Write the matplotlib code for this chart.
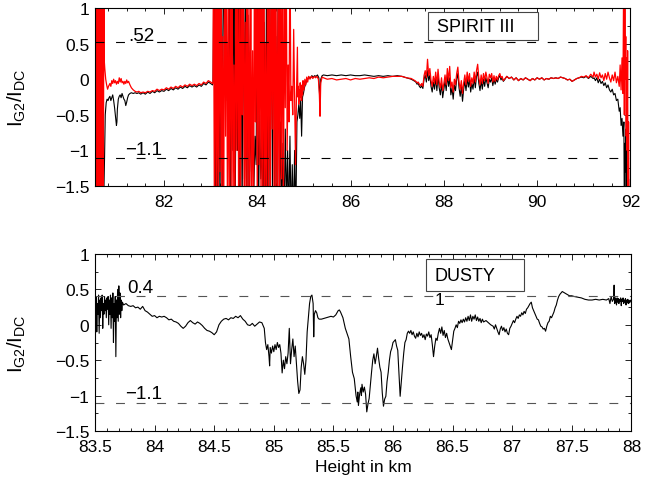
import numpy as np
import matplotlib
matplotlib.use("Agg")
import matplotlib.pyplot as plt
from matplotlib.ticker import MultipleLocator, FuncFormatter
from matplotlib.patches import Rectangle

plt.rcParams['font.family'] = ['Liberation Sans', 'DejaVu Sans']
plt.rcParams['mathtext.fontset'] = 'custom'
plt.rcParams['mathtext.rm'] = 'Liberation Sans'
plt.rcParams['mathtext.it'] = 'Liberation Sans:italic'
plt.rcParams['axes.unicode_minus'] = True

# ---------------- SPIRIT III (top panel) ----------------
spirit_black_h = [
    80.520, 80.527, 80.533, 80.540, 80.547, 80.553, 80.560, 80.567, 80.573, 80.580,
    80.587, 80.593, 80.600, 80.607, 80.613, 80.620, 80.627, 80.633, 80.640, 80.660,
    80.690, 80.710, 80.725, 80.740, 80.760, 80.780, 80.800,
    80.82, 80.84, 80.86, 80.88, 80.90, 80.92, 80.94, 80.96, 80.98, 80.99, 81.00, 81.02,
    81.04, 81.06, 81.08, 81.10, 81.12, 81.14, 81.16, 81.18, 81.20, 81.22, 81.24, 81.27,
    81.30, 81.34, 81.38, 81.42, 81.46, 81.50,
    81.55, 81.60, 81.65, 81.70, 81.75, 81.80, 81.85, 81.90, 81.95, 82.00, 82.05, 82.10,
    82.15, 82.20, 82.25, 82.30, 82.35, 82.40, 82.45, 82.50, 82.55, 82.60, 82.65, 82.70,
    82.75, 82.80, 82.85, 82.90, 82.95, 83.00, 83.04,
    83.050, 83.075, 83.100, 83.125, 83.150, 83.175, 83.200, 83.225, 83.250, 83.275,
    83.300, 83.325, 83.350, 83.375, 83.400, 83.425, 83.450, 83.475, 83.500, 83.525,
    83.550, 83.575, 83.600, 83.625, 83.650, 83.675, 83.700, 83.725, 83.750, 83.775,
    83.800, 83.825, 83.850, 83.875, 83.900, 83.925, 83.950, 83.975, 84.000, 84.025,
    84.050, 84.075, 84.100, 84.125, 84.150, 84.175, 84.200, 84.225, 84.250, 84.275,
    84.300, 84.325, 84.350, 84.375, 84.400, 84.425, 84.450, 84.475, 84.500, 84.525,
    84.550, 84.575, 84.600, 84.625, 84.650, 84.675, 84.700, 84.725, 84.750, 84.775,
    84.800, 84.825, 84.850,
    84.87, 84.89, 84.91, 84.93, 84.95, 84.97, 84.99, 85.01, 85.03, 85.05, 85.08, 85.11,
    85.14, 85.17, 85.20, 85.23, 85.26, 85.29, 85.32, 85.34, 85.36, 85.39, 85.42,
    85.50, 85.60, 85.70, 85.80, 85.90, 86.00, 86.10, 86.20, 86.30, 86.40, 86.50, 86.60,
    86.70, 86.80, 86.90, 87.00, 87.10, 87.20, 87.30, 87.38,
    87.400, 87.425, 87.450, 87.475, 87.500, 87.525, 87.550, 87.575, 87.600, 87.625,
    87.650, 87.675, 87.700, 87.725, 87.750, 87.775, 87.800, 87.825, 87.850, 87.875,
    87.900, 87.925, 87.950, 87.975, 88.000, 88.025, 88.050, 88.075, 88.100, 88.125,
    88.150, 88.175, 88.200, 88.225, 88.250, 88.275, 88.300, 88.325, 88.350, 88.375,
    88.400, 88.425, 88.450, 88.475, 88.500, 88.525, 88.550, 88.575, 88.600, 88.625,
    88.650, 88.675, 88.700, 88.725, 88.750, 88.775, 88.800, 88.825, 88.850, 88.875,
    88.900, 88.925, 88.950, 88.975, 89.000, 89.025, 89.050, 89.075, 89.100, 89.125,
    89.150, 89.175, 89.200, 89.225, 89.250, 89.275, 89.300,
    89.35, 89.40, 89.45, 89.50, 89.55, 89.60, 89.65, 89.70, 89.75, 89.80, 89.85, 89.90,
    89.95, 90.00, 90.05, 90.10, 90.15, 90.20, 90.25, 90.30, 90.35, 90.40, 90.45, 90.50,
    90.55, 90.60, 90.65, 90.70, 90.75, 90.80, 90.85, 90.90, 90.95, 91.00, 91.05, 91.10,
    91.15, 91.20,
    91.22, 91.25, 91.28, 91.31, 91.34, 91.37, 91.40, 91.43, 91.46, 91.49, 91.52, 91.55,
    91.58, 91.61, 91.64, 91.67, 91.70, 91.73, 91.76, 91.78, 91.80, 91.82, 91.84, 91.86,
    91.87, 91.88, 91.89, 91.90, 91.91, 91.92, 91.93, 91.94, 91.95, 91.96, 91.97,
]
spirit_black_v = [
    2, -2, 2, -2, 2, -2, 2, -2, 2, -2,
    2, -2, 2, -2, 2, -2, 2, -2, -1.8, -2,
    -2, -1.6, -1.1, -0.5, -0.33, -0.28, -0.30,
    -0.26, -0.24, -0.30, -0.26, -0.22, -0.30, -0.40, -0.52, -0.65, -0.60, -0.42, -0.28,
    -0.24, -0.22, -0.26, -0.20, -0.24, -0.28, -0.30, -0.37, -0.32, -0.26, -0.22, -0.20,
    -0.19, -0.20, -0.19, -0.20, -0.19, -0.21,
    -0.19, -0.21, -0.18, -0.20, -0.17, -0.19, -0.16, -0.18, -0.16, -0.17, -0.14, -0.16,
    -0.13, -0.15, -0.12, -0.14, -0.11, -0.13, -0.10, -0.12, -0.09, -0.11, -0.09, -0.11,
    -0.08, -0.10, -0.06, -0.08, -0.04, -0.06, -0.08,
    -0.05, 2, -2, 2, -2, 1.5, -2, 2, -1.5, 2,
    0.4, -0.3, 0.5, -0.6, 2, -2, 2, -1.0, 2, -2,
    0.6, -1.0, 2, -2, 1.2, -2, 2, -1.4, 2, -2,
    0.9, -2, -0.4, -1.3, -0.6, -1.6, -0.8, -1.2, 2, -2,
    -0.5, -1.4, -0.9, -2, 0.8, -2, 2, -2, 1.5, -2,
    2, -1.6, 2, -2, 0.6, -2, 2, -2, -0.6, -2,
    -0.9, -2, -0.7, -1.8, -1.0, -2, -0.8, -2, -1.2, -2,
    -1.0, -2, -0.6,
    -0.5, -0.35, -0.55, -0.3, -0.8, -0.25, -0.2, -0.12, -0.08, -0.04, 0.0, 0.03,
    0.02, 0.05, 0.03, 0.05, 0.04, 0.06, 0.02, -0.3, 0.0, 0.05, 0.06,
    0.05, 0.06, 0.05, 0.06, 0.05, 0.06, 0.05, 0.05, 0.06, 0.05, 0.04, 0.05,
    0.04, 0.05, 0.04, 0.05, 0.04, 0.02, 0.0, -0.03,
    -0.04, -0.07, -0.06, -0.10, -0.12, -0.09, -0.13, 0.0, 0.06, -0.04,
    0.12, -0.02, 0.06, -0.10, -0.18, -0.04, -0.14, 0.02, -0.16, 0.05,
    -0.12, -0.22, -0.06, -0.26, -0.14, -0.02, -0.16, 0.06, -0.10, 0.02,
    -0.22, -0.12, -0.28, -0.08, -0.16, 0.0, 0.08, -0.12, -0.24, -0.10,
    -0.31, -0.14, -0.02, -0.16, 0.02, -0.11, 0.0, -0.18, -0.06, -0.14,
    0.02, -0.12, 0.04, 0.10, -0.06, -0.16, -0.02, -0.14, 0.0, -0.10,
    0.02, -0.05, -0.12, 0.0, -0.04, 0.02, -0.09, 0.0, -0.07, 0.0,
    -0.04, 0.02, 0.05, -0.01, 0.02, -0.03, -0.01,
    0.04, 0.01, 0.03, -0.01, 0.02, -0.02, 0.01, -0.01, 0.02, 0.0, -0.02, 0.01,
    -0.01, 0.02, 0.0, 0.02, -0.01, 0.01, 0.0, 0.02, 0.01, 0.02, 0.01, 0.03,
    0.02, 0.01, -0.01, 0.0, -0.03, -0.01, 0.01, 0.02, 0.03, 0.02, 0.04, 0.01,
    0.04, 0.01,
    0.02, -0.02, 0.02, -0.05, 0.0, -0.06, -0.03, -0.09, -0.05, -0.12, -0.08, -0.15,
    -0.18, -0.14, -0.22, -0.20, -0.30, -0.28, -0.45, -0.40, -0.65, -0.55, -0.80, -0.60,
    -2, -0.9, -1.3, -0.7, -1.6, -1.0, -2, -1.2, -2, -1.4, -2,
]

spirit_red_h = [
    80.520, 80.527, 80.533, 80.540, 80.547, 80.553, 80.560, 80.567, 80.573, 80.580,
    80.587, 80.593, 80.600, 80.607, 80.613, 80.620, 80.627, 80.633, 80.640, 80.650,
    80.660, 80.670, 80.680, 80.690, 80.700, 80.710, 80.720, 80.730, 80.750, 80.770,
    80.790, 80.810,
    80.84, 80.86, 80.88, 80.90, 80.92, 80.94, 80.96, 80.98, 81.00, 81.02, 81.04, 81.06,
    81.08, 81.10, 81.12, 81.14, 81.16, 81.18, 81.20, 81.22, 81.24, 81.27, 81.30, 81.34,
    81.38, 81.42, 81.46, 81.50,
    81.55, 81.60, 81.65, 81.70, 81.75, 81.80, 81.85, 81.90, 81.95, 82.00, 82.05, 82.10,
    82.15, 82.20, 82.25, 82.30, 82.35, 82.40, 82.45, 82.50, 82.55, 82.60, 82.65, 82.70,
    82.75, 82.80, 82.85, 82.90, 82.95, 83.00, 83.04,
    83.05, 83.06, 83.08, 83.10, 83.12, 83.14, 83.16, 83.18, 83.20, 83.22, 83.24, 83.26,
    83.28, 83.30, 83.32, 83.34, 83.36, 83.38, 83.40, 83.42, 83.44, 83.46, 83.48, 83.50,
    83.52, 83.54, 83.56, 83.58, 83.60, 83.62, 83.64, 83.66, 83.68, 83.70, 83.72, 83.74,
    83.76, 83.78, 83.80, 83.82, 83.84, 83.86, 83.88, 83.90, 83.92, 83.94, 83.96, 83.98,
    84.00, 84.02, 84.04, 84.06, 84.08, 84.10, 84.12, 84.14, 84.16, 84.18, 84.20, 84.22,
    84.24, 84.26, 84.28, 84.30, 84.32, 84.34, 84.36, 84.38, 84.40, 84.42, 84.44, 84.46,
    84.48, 84.50, 84.52, 84.54, 84.56, 84.58, 84.60, 84.62, 84.64, 84.66, 84.68, 84.70,
    84.72, 84.74, 84.76, 84.78, 84.80, 84.82, 84.84,
    84.86, 84.87, 84.88, 84.89, 84.90, 84.91, 84.92, 84.93, 84.94, 84.95, 84.96, 84.97,
    84.98, 85.00, 85.02, 85.04, 85.06, 85.08, 85.10, 85.13, 85.16, 85.19, 85.22, 85.25,
    85.28, 85.31, 85.33, 85.345, 85.36, 85.39, 85.42,
    85.50, 85.60, 85.70, 85.80, 85.90, 86.00, 86.10, 86.20, 86.30, 86.40, 86.50, 86.60,
    86.70, 86.80, 86.90, 87.00, 87.10, 87.20, 87.30, 87.38,
    87.400, 87.425, 87.450, 87.475, 87.500, 87.525, 87.550, 87.575, 87.600, 87.625,
    87.650, 87.675, 87.700, 87.725, 87.750, 87.775, 87.800, 87.825, 87.850, 87.875,
    87.900, 87.925, 87.950, 87.975, 88.000, 88.025, 88.050, 88.075, 88.100, 88.125,
    88.150, 88.175, 88.200, 88.225, 88.250, 88.275, 88.300, 88.325, 88.350, 88.375,
    88.400, 88.425, 88.450, 88.475, 88.500, 88.525, 88.550, 88.575, 88.600, 88.625,
    88.650, 88.675, 88.700, 88.725, 88.750, 88.775, 88.800, 88.825, 88.850, 88.875,
    88.900, 88.925, 88.950, 88.975, 89.000, 89.025, 89.050, 89.075, 89.100, 89.125,
    89.150, 89.175, 89.200, 89.225, 89.250, 89.275, 89.300,
    89.35, 89.40, 89.45, 89.50, 89.55, 89.60, 89.65, 89.70, 89.75, 89.80, 89.85, 89.90,
    89.95, 90.00, 90.05, 90.10, 90.15, 90.20, 90.25, 90.30, 90.35, 90.40, 90.45, 90.50,
    90.55, 90.60, 90.65, 90.70, 90.75, 90.80, 90.85, 90.90, 90.95, 91.00, 91.05, 91.10,
    91.15, 91.20,
    91.22, 91.25, 91.28, 91.31, 91.34, 91.37, 91.40, 91.43, 91.46, 91.49, 91.52, 91.55,
    91.58, 91.61, 91.64, 91.67, 91.70, 91.73, 91.76, 91.78, 91.80, 91.82, 91.84, 91.86,
    91.87, 91.88, 91.89, 91.90, 91.91, 91.92, 91.93, 91.94, 91.95, 91.96, 91.97,
]
spirit_red_v = [
    -2, 2, -2, 2, -2, 2, -2, 2, -2, 2,
    -2, 2, -2, 2, -2, 2, -2, 2, -2, 2,
    -2, 2, -2, 2, -1.5, 1.2, 0.25, 0.15, 0.0, -0.08,
    -0.14, -0.10,
    -0.06, -0.10, -0.02, -0.06, 0.0, -0.05, -0.02, -0.07, -0.03, -0.06, 0.02, -0.04,
    0.01, -0.05, -0.03, -0.07, -0.03, -0.06, -0.01, -0.05, -0.03, -0.08, -0.12, -0.15,
    -0.17, -0.18, -0.17, -0.19,
    -0.18, -0.19, -0.17, -0.18, -0.16, -0.17, -0.14, -0.16, -0.14, -0.15, -0.12, -0.14,
    -0.11, -0.13, -0.10, -0.12, -0.09, -0.11, -0.08, -0.10, -0.07, -0.09, -0.07, -0.09,
    -0.06, -0.08, -0.04, -0.06, -0.02, -0.04, -0.06,
    -0.04, 2, -2, 2, -2, 1.2, -2, 2, -1.3, 2, -2, 0.6,
    -2, 2, -0.8, 2, -2, 1.0, -2, 2, -1.6, 2, -2, 0.2,
    -2, 2, -1.0, 2, -2, 1.5, -2, 2, -0.5, 2, -2, 0.8,
    -2, 2, -2, 1.0, -1.8, 2, -2, 0.4, -2, 2, -0.6, 2,
    -2, 2, -1.2, 2, -2, 1.4, -2, 2, -2, 0.5, -2, 2,
    -1.5, 2, -2, 2, -0.7, 2, -2, 2, -2, 1.1, -2, 2,
    -2, 2, -1.4, 2, -2, 1.4, -0.4, 2, -1.0, 0.2, -0.6, 2,
    -0.3, -0.1, -0.5, 0.7, -0.3, -1.2, -0.2,
    0.45, -0.25, -0.10, -0.35, -0.15, -0.30, -0.05, -0.25, -0.10, -0.30, -0.08, -0.22,
    -0.02, -0.15, 0.0, -0.08, 0.03, -0.04, 0.04, 0.0, 0.04, 0.01, 0.04, 0.02,
    0.04, 0.0, -0.2, -0.52, -0.05, 0.03, 0.02,
    0.0, 0.01, -0.01, 0.0, 0.01, -0.01, 0.01, 0.0, 0.01, 0.02, 0.01, 0.03,
    0.02, 0.03, 0.04, 0.04, 0.04, 0.02, 0.01, -0.02,
    -0.03, -0.05, -0.04, -0.07, -0.09, -0.06, -0.10, 0.05, 0.12, 0.02,
    0.28, 0.05, 0.15, -0.02, -0.10, 0.04, -0.06, 0.10, -0.08, 0.14,
    -0.04, -0.12, 0.02, -0.16, -0.06, 0.06, -0.08, 0.15, -0.02, 0.18,
    -0.12, -0.04, -0.18, 0.0, -0.08, 0.08, 0.17, -0.04, -0.14, -0.02,
    -0.20, -0.05, 0.06, -0.08, 0.10, -0.03, 0.08, -0.10, 0.02, -0.06,
    0.10, -0.04, 0.12, 0.21, 0.02, -0.08, 0.06, -0.06, 0.08, -0.02,
    0.10, 0.02, -0.06, 0.07, 0.02, 0.08, -0.04, 0.05, -0.03, 0.04,
    -0.01, 0.05, 0.08, 0.02, 0.04, -0.02, 0.0,
    0.04, 0.01, 0.03, -0.01, 0.02, -0.02, 0.01, -0.01, 0.02, 0.0, -0.02, 0.01,
    -0.01, 0.02, 0.0, 0.02, -0.01, 0.01, 0.0, 0.02, 0.01, 0.02, 0.01, 0.03,
    0.02, 0.01, -0.01, 0.0, -0.03, -0.01, 0.01, 0.02, 0.04, 0.03, 0.05, 0.02,
    0.07, 0.03,
    0.10, 0.03, 0.07, 0.0, 0.09, 0.02, 0.06, -0.02, 0.08, 0.0, 0.10, 0.02,
    -0.04, 0.06, -0.02, 0.10, -0.05, 0.04, -0.10, 0.20, -0.15, 0.30, -0.20, 2.0,
    -0.5, 1.5, 0.0, 0.6, -0.8, 0.3, -1.0, 0.4, -2.0, -0.6, -2.0,
]

spirit_levels = [0.52, -1.1]
spirit_level_labels = ['.52', '\u22121.1']
spirit_xticks = [82, 84, 86, 88, 90, 92]

# ---------------- DUSTY (bottom panel) ----------------
dusty_h = [
    83.500, 83.505, 83.510, 83.515, 83.520, 83.525, 83.530, 83.535, 83.540, 83.545,
    83.550, 83.555, 83.560, 83.565, 83.570, 83.575, 83.580, 83.585, 83.590, 83.595,
    83.600, 83.605, 83.610, 83.615, 83.620, 83.625, 83.630, 83.635, 83.640, 83.645,
    83.650, 83.655, 83.660, 83.665, 83.670, 83.675, 83.680, 83.685, 83.690, 83.695,
    83.700, 83.705, 83.710, 83.715, 83.720, 83.725, 83.730, 83.740,
    83.76, 83.78, 83.80, 83.82, 83.84, 83.86, 83.88, 83.90, 83.92, 83.94, 83.96, 83.98,
    84.00, 84.02, 84.04, 84.06, 84.08, 84.10, 84.12, 84.14, 84.16, 84.18, 84.20, 84.22,
    84.24, 84.26, 84.28, 84.30, 84.32, 84.34, 84.36, 84.38, 84.40, 84.42, 84.44, 84.46,
    84.48, 84.50, 84.52, 84.54, 84.56, 84.58, 84.60, 84.62, 84.64, 84.66, 84.68, 84.70,
    84.72, 84.74, 84.76, 84.78, 84.80, 84.82, 84.84, 84.86, 84.88, 84.90, 84.92, 84.93,
    84.94, 84.95, 84.96, 84.965, 84.97, 84.98, 84.99, 85.00, 85.01, 85.02, 85.03, 85.04,
    85.05, 85.06, 85.07, 85.08, 85.09, 85.10, 85.11, 85.12, 85.13, 85.14, 85.15, 85.16,
    85.17, 85.18, 85.19, 85.20, 85.21, 85.22, 85.23, 85.24, 85.25, 85.26, 85.27, 85.28,
    85.29, 85.30, 85.31, 85.32, 85.33, 85.335, 85.34, 85.35, 85.36, 85.37, 85.38, 85.40,
    85.42, 85.44, 85.46, 85.48, 85.50, 85.52, 85.54, 85.55, 85.56, 85.58, 85.60, 85.62,
    85.63, 85.645, 85.66, 85.675, 85.69, 85.70, 85.705, 85.71, 85.72, 85.73, 85.735, 85.74,
    85.75, 85.76, 85.77, 85.78, 85.79, 85.80, 85.81, 85.82, 85.83, 85.84, 85.85, 85.86,
    85.87, 85.88, 85.89, 85.90, 85.91, 85.92, 85.93, 85.94, 85.95, 85.96, 85.97, 85.98,
    85.99, 86.00, 86.02, 86.03, 86.04, 86.05, 86.06, 86.07, 86.08, 86.09, 86.10, 86.11,
    86.12, 86.13, 86.14, 86.15, 86.16, 86.17, 86.18, 86.19, 86.20, 86.21, 86.22, 86.23,
    86.24, 86.25, 86.26, 86.27, 86.28, 86.29, 86.30, 86.31, 86.32, 86.33, 86.34, 86.35,
    86.36, 86.37, 86.38, 86.39, 86.40, 86.41, 86.42, 86.43, 86.44, 86.45, 86.46, 86.47,
    86.48, 86.49, 86.50, 86.51, 86.52, 86.53, 86.54, 86.55, 86.56, 86.57, 86.58, 86.59,
    86.60, 86.61, 86.62, 86.63, 86.64, 86.65, 86.66, 86.67, 86.68, 86.69, 86.70, 86.71,
    86.72, 86.73, 86.74, 86.75, 86.76, 86.78, 86.80, 86.82, 86.84, 86.85, 86.86, 86.87,
    86.88, 86.89, 86.90, 86.91, 86.92, 86.93, 86.94, 86.95, 86.96, 86.97, 86.98, 86.99,
    87.00, 87.01, 87.02, 87.03, 87.04, 87.05, 87.06, 87.07, 87.08, 87.09, 87.10, 87.11,
    87.12, 87.13, 87.14, 87.15, 87.16, 87.17, 87.18, 87.19, 87.20, 87.21, 87.22, 87.23,
    87.24, 87.25, 87.26, 87.27, 87.28, 87.29, 87.30, 87.31, 87.32, 87.33, 87.34, 87.35,
    87.36, 87.37, 87.38, 87.39, 87.40, 87.42, 87.44, 87.46, 87.48, 87.50, 87.52, 87.55,
    87.58, 87.61, 87.64, 87.67, 87.70, 87.73, 87.76, 87.79, 87.81, 87.82, 87.83, 87.84,
    87.85, 87.855, 87.86, 87.865, 87.87, 87.875, 87.88, 87.885, 87.89, 87.895, 87.90, 87.905,
    87.91, 87.915, 87.92, 87.925, 87.93, 87.935, 87.94, 87.945, 87.95, 87.955, 87.96, 87.965,
    87.97, 87.975, 87.98, 87.985, 87.99, 88.00,
]
dusty_v = [
    0.35, 0.05, 0.40, -0.10, 0.30, 0.15, 0.42, -0.12, 0.35, 0.10,
    0.38, 0.20, 0.42, -0.05, 0.30, 0.15, 0.40, 0.20, 0.35, 0.10,
    0.38, 0.22, 0.40, 0.00, 0.35, 0.15, 0.42, -0.05, 0.38, 0.10,
    0.45, -0.25, 0.30, 0.05, 0.40, -0.45, 0.35, 0.10, 0.50, 0.05,
    0.55, 0.15, 0.45, 0.10, 0.35, 0.20, 0.32, 0.28,
    0.30, 0.27, 0.26, 0.27, 0.24, 0.25, 0.22, 0.26, 0.20, 0.18, 0.15, 0.12,
    0.13, 0.10, 0.12, 0.11, 0.12, 0.10, 0.07, 0.08, 0.05, 0.04, 0.02, -0.02,
    -0.05, -0.02, 0.03, 0.06, 0.03, 0.01, 0.04, 0.02, -0.01, -0.05, -0.08, -0.09,
    -0.11, -0.14, -0.10, 0.00, 0.05, 0.08, 0.09, 0.07, 0.10, 0.09, 0.12, 0.10,
    0.13, 0.08, 0.05, 0.00, -0.01, 0.02, -0.02, 0.01, 0.04, 0.03, -0.05, -0.25,
    -0.35, -0.28, -0.45, -0.58, -0.32, -0.40, -0.30, -0.38, -0.28, -0.35, -0.25, -0.32,
    -0.28, -0.40, -0.68, -0.50, -0.62, -0.45, -0.55, -0.40, -0.05, -0.55, -0.35, -0.20,
    -0.45, -0.30, -0.55, -0.80, -0.97, -0.92, -0.60, -0.45, -0.55, -0.70, -0.50, -0.10,
    0.10, 0.30, 0.40, 0.42, 0.30, -0.17, 0.15, 0.20, 0.17, 0.10, 0.08, 0.08,
    0.09, 0.10, 0.11, 0.12, 0.11, 0.14, 0.20, 0.21, 0.18, 0.10, -0.05, -0.15,
    -0.20, -0.45, -0.67, -0.76, -1.00, -1.09, -0.95, -1.14, -0.98, -0.89, -1.00, -0.84,
    -0.95, -0.88, -0.98, -1.23, -1.12, -1.04, -0.85, -0.67, -0.50, -0.41, -0.55, -0.45,
    -0.33, -0.48, -0.60, -0.67, -0.96, -1.15, -1.05, -1.01, -0.80, -0.67, -0.50, -0.38,
    -0.33, -0.25, -0.21, -0.30, -0.36, -0.70, -1.01, -0.80, -0.59, -0.40, -0.25, -0.21,
    -0.12, -0.09, -0.12, -0.08, -0.14, -0.10, -0.16, -0.19, -0.12, -0.17, -0.10, -0.15,
    -0.12, -0.18, -0.14, -0.21, -0.13, -0.16, -0.10, -0.18, -0.14, -0.28, -0.45, -0.30,
    -0.19, -0.22, -0.12, -0.05, -0.12, -0.03, -0.15, -0.08, -0.18, -0.12, -0.20, -0.25,
    -0.30, -0.35, -0.22, -0.09, -0.05, 0.00, -0.04, 0.05, 0.02, 0.07, 0.03, 0.08,
    0.04, 0.10, 0.05, 0.12, 0.06, 0.14, 0.05, 0.12, 0.08, 0.14, 0.06, 0.11,
    0.05, 0.09, 0.03, 0.08, 0.04, 0.06, 0.03, 0.00, -0.02, -0.06, 0.00, -0.05,
    -0.10, -0.14, -0.06, -0.02, -0.08, -0.04, -0.10, -0.06, -0.12, -0.14, -0.05, -0.02,
    0.02, 0.06, 0.03, 0.08, 0.12, 0.09, 0.14, 0.12, 0.17, 0.14, 0.19, 0.16,
    0.22, 0.24, 0.27, 0.30, 0.32, 0.24, 0.20, 0.16, 0.12, 0.08, 0.07, 0.02,
    -0.02, -0.03, -0.06, -0.05, -0.09, -0.02, 0.03, 0.05, 0.12, 0.10, 0.14, 0.18,
    0.24, 0.28, 0.35, 0.40, 0.43, 0.47, 0.45, 0.43, 0.41, 0.41, 0.40, 0.39,
    0.38, 0.36, 0.35, 0.35, 0.36, 0.35, 0.36, 0.35, 0.37, 0.30, 0.40, 0.33,
    0.36, 0.56, 0.30, 0.38, 0.34, 0.28, 0.38, 0.32, 0.37, 0.30, 0.36, 0.33,
    0.38, 0.27, 0.36, 0.33, 0.38, 0.30, 0.35, 0.32, 0.37, 0.28, 0.35, 0.31,
    0.36, 0.30, 0.34, 0.31, 0.35, 0.32,
]

dusty_levels = [0.4, -1.1]
dusty_level_labels = ['0.4', '\u22121.1']
dusty_xticks = [83.5, 84, 84.5, 85, 85.5, 86, 86.5, 87, 87.5, 88]

yticks = [-1.5, -1, -0.5, 0, 0.5, 1]


def fmt(v, pos=None):
    return ('%g' % v).replace('-', '\u2212')


fig = plt.figure(figsize=(6.56, 4.85), dpi=100)
ax1 = fig.add_axes([0.1448, 0.6144, 0.8162, 0.3670])
ax2 = fig.add_axes([0.1448, 0.1093, 0.8177, 0.3649])

FS = 12.5
ylab = r'$\mathregular{I_{G2}/I_{DC}}$'

for ax in (ax1, ax2):
    ax.set_ylim(-1.5, 1)
    ax.set_yticks(yticks)
    ax.yaxis.set_major_formatter(FuncFormatter(fmt))
    ax.xaxis.set_major_formatter(FuncFormatter(fmt))
    ax.yaxis.set_minor_locator(MultipleLocator(0.25))
    ax.tick_params(which='both', direction='in', top=True, right=True,
                   labelsize=FS, width=0.6)
    ax.tick_params(which='major', length=4)
    ax.tick_params(axis='x', which='major', pad=5.5)
    ax.tick_params(axis='y', which='major', pad=4)
    ax.tick_params(which='minor', length=2.2)
    for s in ax.spines.values():
        s.set_linewidth(0.8)
    ax.set_ylabel(ylab, fontsize=FS + 2)
    ax.yaxis.set_label_coords(-0.125, 0.5)

# top panel
ax1.plot(spirit_black_h, spirit_black_v, color='black', lw=0.8)
ax1.plot(spirit_red_h, spirit_red_v, color='#ff0000', lw=0.9)
ax1.set_xlim(80.52, 92)
ax1.set_xticks(spirit_xticks)
ax1.xaxis.set_minor_locator(MultipleLocator(0.4))
for lv in spirit_levels:
    ax1.axhline(lv, color='black', lw=0.8, ls=(0, (8, 10.5)))
ax1.text(81.23, 0.62, spirit_level_labels[0], fontsize=FS + 1, ha='left', va='center')
ax1.text(81.16, -0.99, spirit_level_labels[1], fontsize=FS + 1, ha='left', va='center')
ax1.add_patch(Rectangle((0.622, 0.82), 0.206, 0.158, transform=ax1.transAxes,
                        facecolor='white', edgecolor='#444444', lw=0.8, zorder=5))
ax1.text(0.639, 0.895, 'SPIRIT III', transform=ax1.transAxes, fontsize=FS + 0.5,
         ha='left', va='center', zorder=6)

# bottom panel
ax2.plot(dusty_h, dusty_v, color='black', lw=0.8)
ax2.set_xlim(83.5, 88)
ax2.set_xticks(dusty_xticks)
ax2.xaxis.set_minor_locator(MultipleLocator(0.1))
for lv in dusty_levels:
    ax2.axhline(lv, color='#555555', lw=0.8, ls=(0, (8, 10.5)))
ax2.text(83.77, 0.52, dusty_level_labels[0], fontsize=FS + 1, ha='left', va='center')
ax2.text(83.75, -0.97, dusty_level_labels[1], fontsize=FS + 1, ha='left', va='center')
ax2.text(86.39, 0.36, '1', fontsize=FS, ha='center', va='center')
ax2.add_patch(Rectangle((0.6175, 0.791), 0.183, 0.181, transform=ax2.transAxes,
                        facecolor='white', edgecolor='#444444', lw=0.8, zorder=5))
ax2.text(0.632, 0.878, 'DUSTY', transform=ax2.transAxes, fontsize=FS + 0.5,
         ha='left', va='center', zorder=6)
ax2.set_xlabel('Height in km', fontsize=FS, labelpad=4)

fig.savefig('out.png', dpi=100)
